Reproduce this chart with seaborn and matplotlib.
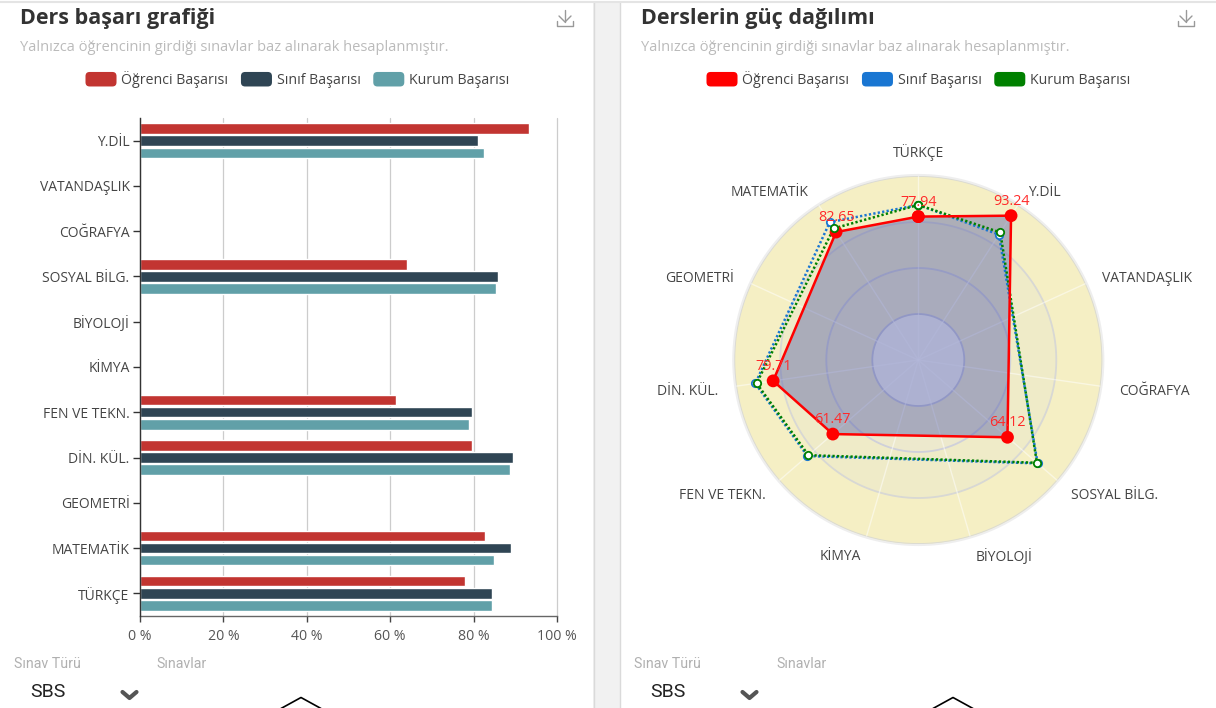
import numpy as np
import pandas as pd
import matplotlib
matplotlib.use("Agg")
import matplotlib.pyplot as plt
from matplotlib.patches import FancyBboxPatch, Rectangle, Patch
from matplotlib.legend_handler import HandlerBase
import seaborn as sns

W, H = 1216, 708

# ---------- data ----------
bar_categories = ["Y.DİL", "VATANDAŞLIK", "COĞRAFYA", "SOSYAL BİLG.", "BİYOLOJİ", "KİMYA",
                  "FEN VE TEKN.", "DİN. KÜL.", "GEOMETRİ", "MATEMATİK", "TÜRKÇE"]
ogrenci = [93.24, np.nan, np.nan, 64.12, np.nan, np.nan, 61.47, 79.71, np.nan, 82.65, 77.94]
sinif = [81.0, np.nan, np.nan, 85.8, np.nan, np.nan, 79.7, 89.5, np.nan, 89.0, 84.3]
kurum = [82.4, np.nan, np.nan, 85.3, np.nan, np.nan, 79.0, 88.8, np.nan, 85.0, 84.3]
series_names = ["Öğrenci Başarısı", "Sınıf Başarısı", "Kurum Başarısı"]
x_ticks = [0, 20, 40, 60, 80, 100]
x_tick_labels = ["0 %", "20 %", "40 %", "60 %", "80 %", "100 %"]
radar_order = ["TÜRKÇE", "Y.DİL", "VATANDAŞLIK", "COĞRAFYA", "SOSYAL BİLG.", "BİYOLOJİ", "KİMYA",
               "FEN VE TEKN.", "DİN. KÜL.", "GEOMETRİ", "MATEMATİK"]
ring_levels = [25, 50, 75, 100]
ring_colors = ["#F4F4F0", "#EDE9CD", "#EFEBC8", "#F5EFC4"]
ring_edges = ["#C6C8DC", "#CFD0DA", "#D8D8D4", "#DADAD2"]
title_left = "Ders başarı grafiği"
title_right = "Derslerin güç dağılımı"
subtitle = "Yalnızca öğrencinin girdiği sınavlar baz alınarak hesaplanmıştır."
bar_palette = ["#C23531", "#2F4554", "#61A0A8"]
radar_palette = ["#FF0000", "#1976D2", "#008000"]

sns.set_theme(style="white")
plt.rcParams["font.family"] = ["Open Sans", "DejaVu Sans"]

fig = plt.figure(figsize=(W / 100, H / 100), dpi=100, facecolor="white")


def rect_px(l, t, r, b):
    return [l / W, 1 - b / H, (r - l) / W, (b - t) / H]


# ---------- page furniture ----------
bg = fig.add_axes([0, 0, 1, 1], zorder=0)
bg.set_xlim(0, W)
bg.set_ylim(H, 0)
bg.axis("off")
bg.add_patch(Rectangle((593, 2), 27, H, fc="#F1F1F1", ec="none"))
bg.plot([593.5, 593.5], [2, H], color="#DADADA", lw=1)
bg.plot([620, 620], [2, H], color="#DADADA", lw=1)
bg.plot([0, W], [2, 2], color="#E4E4E4", lw=1.5)

for off, title in [(0, title_left), (621, title_right)]:
    bg.text(20 + off, 18.5, title, fontsize=15.5, fontweight="bold", color="#333333", va="center")
    bg.text(20 + off, 47.5, subtitle, fontsize=10.5, color="#BBBBBB", va="center")
    # download icon
    ix = 565 + off
    bg.plot([ix, ix], [10, 22], color="#999999", lw=1)
    bg.plot([ix - 6, ix, ix + 6], [16, 22, 16], color="#999999", lw=1)
    bg.plot([ix - 8, ix - 8, ix + 8, ix + 8], [21, 25.5, 25.5, 21], color="#999999", lw=1)

for off in (0, 620):
    bg.text(14 + off, 664, "Sınav Türü", fontsize=10.2, family="Roboto", color="#B0B0B0", va="center")
    bg.text(156 + off, 664, "Sınavlar", fontsize=10.2, family="Roboto", color="#B0B0B0", va="center")
    bg.text(30 + off, 692, "SBS", fontsize=14, family="Roboto", color="#222222", va="center")
    bg.plot(np.array([122.5, 129.5, 136.5]) + off, [692, 698, 692], color="#555555", lw=3)
    peak = 301 if off == 0 else 953
    bg.plot([peak - 20, peak, peak + 20], [708.5, 697.5, 708.5], color="black", lw=1.2, clip_on=True)


# ---------- legends ----------
class RoundHandler(HandlerBase):
    def create_artists(self, legend, orig, xd, yd, w, h, fs, trans):
        return [FancyBboxPatch((-xd, -yd), w, h, boxstyle="round,pad=0,rounding_size=3",
                               fc=orig.get_facecolor(), ec="none", transform=trans)]


def add_legend(colors, cx):
    handles = [Patch(color=c) for c in colors]
    fig.legend(handles, series_names, loc="center", bbox_to_anchor=(cx / W, 1 - 79.5 / H),
               ncol=3, frameon=False, fontsize=10.2, handlelength=2.19, handleheight=1.2,
               handletextpad=0.35, columnspacing=0.88, borderpad=0, labelcolor="#444444",
               handler_map={Patch: RoundHandler()})


add_legend(bar_palette, 297.5)
add_legend(radar_palette, 918.5)

# ---------- bar chart ----------
df = pd.DataFrame({"ders": bar_categories, series_names[0]: ogrenci,
                   series_names[1]: sinif, series_names[2]: kurum})
long_df = df.melt(id_vars="ders", var_name="seri", value_name="deger")

ax = fig.add_axes(rect_px(140, 118, 557, 616), zorder=2, facecolor="none")
sns.barplot(data=long_df, y="ders", x="deger", hue="seri", order=bar_categories,
            hue_order=series_names, palette=bar_palette, saturation=1, width=0.8, gap=0.14,
            legend=False, ax=ax, zorder=3)
ax.set_xlim(0, 100)
ax.set_ylim(10.5, -0.5)
ax.set_xticks(x_ticks, x_tick_labels)
ax.set_xlabel("")
ax.set_ylabel("")
ax.xaxis.grid(True, color="#CCCCCC", lw=0.9, clip_on=False)
ax.yaxis.grid(False)
ax.set_axisbelow(True)
for s in ("top", "right"):
    ax.spines[s].set_visible(False)
ax.spines["left"].set_color("#333333")
ax.spines["left"].set_linewidth(1)
ax.spines["bottom"].set_color("#666666")
ax.spines["bottom"].set_linewidth(1)
ax.spines["left"].set_zorder(5)
ax.tick_params(axis="x", length=4, width=1, color="#444444", labelcolor="#555555", labelsize=10.2, pad=5, bottom=True)
ax.tick_params(axis="y", length=5, width=1, color="#333333", labelcolor="#444444", labelsize=10.0, pad=2.5, left=True)

# ---------- radar chart ----------
theta = 2 * np.pi * np.arange(len(radar_order)) / len(radar_order)
rad = fig.add_axes(rect_px(918.3 - 184, 360 - 184, 918.3 + 184, 360 + 184),
                   projection="polar", zorder=3, facecolor="none")
rad.set_theta_zero_location("N")
rad.set_theta_direction(-1)

circle = np.linspace(0, 2 * np.pi, 361)
rad.plot(circle, np.full_like(circle, 100.0), color="#888888", alpha=0.14, lw=3, clip_on=False, zorder=0.5)
for level, col, edge in reversed(list(zip(ring_levels, ring_colors, ring_edges))):
    rad.fill_between(circle, 0, level, color=col, lw=0, zorder=1)
    rad.plot(circle, np.full_like(circle, float(level)), color=edge, lw=1.3, zorder=1.1)
rad.set_ylim(0, 100)
rad.set_xticks(theta)
rad.set_xticklabels([])
rad.set_yticks([])
rad.xaxis.grid(True, color="white", lw=1, alpha=0.5)
rad.set_axisbelow(False)
rad.spines["polar"].set_visible(False)

for i, name in enumerate(radar_order):
    deg = np.degrees(theta[i])
    ha = "center" if i == 0 else ("left" if deg < 180 else "right")
    rad.annotate(name, (theta[i], 113 if i == 0 else 110), xytext=(0, 0 if i == 0 else -2),
                 textcoords="offset points", ha=ha, va="center", fontsize=10.0, color="#444444",
                 annotation_clip=False)


def radar_points(values):
    lookup = dict(zip(bar_categories, values))
    rows = [(t, lookup[n]) for t, n in zip(theta, radar_order) if not np.isnan(lookup[n])]
    rows.append(rows[0])
    return pd.DataFrame(rows, columns=["theta", "r"])


p0, p1, p2 = radar_points(ogrenci), radar_points(sinif), radar_points(kurum)

rad.fill(p0["theta"], p0["r"], color="#434EA4", alpha=0.4, lw=0, zorder=3)
for pts, col in [(p1, radar_palette[1]), (p2, radar_palette[2])]:
    sns.lineplot(data=pts, x="theta", y="r", sort=False, estimator=None, color=col, lw=1.8,
                 linestyle=(0, (0.9, 0.9)), ax=rad, zorder=4)
    sns.scatterplot(data=pts, x="theta", y="r", color="white", edgecolor=col, linewidth=1.3, s=28,
                    ax=rad, zorder=6, clip_on=False)
sns.lineplot(data=p0, x="theta", y="r", sort=False, estimator=None, color=radar_palette[0], lw=1.8,
             ax=rad, zorder=5)
sns.scatterplot(data=p0, x="theta", y="r", color=radar_palette[0], edgecolor="none", s=85,
                ax=rad, zorder=5.5)
for t, r in zip(p0["theta"][:-1], p0["r"][:-1]):
    rad.annotate(f"{r:.2f}", (t, r), xytext=(0, 10.5), textcoords="offset points", ha="center", va="center",
                 fontsize=10.4, color="#FF2A2A", zorder=7)
rad.set_xlabel("")
rad.set_ylabel("")
rad.set_ylim(0, 100)

fig.savefig("out.png", dpi=100)
